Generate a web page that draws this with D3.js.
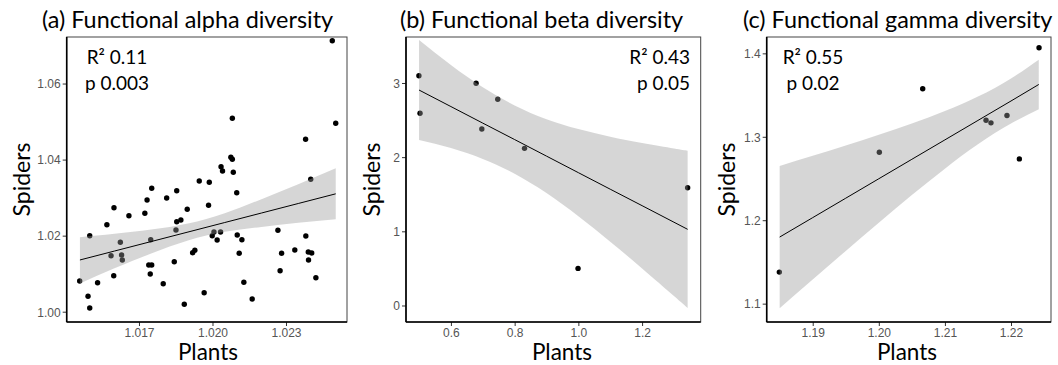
<!DOCTYPE html>
<html>
<head>
<meta charset="utf-8">
<script src="https://cdn.jsdelivr.net/npm/d3@7"></script>
<style>
    body { margin: 0; background: #fff; }
    svg { display: block; }
    .tick text { font-family: "Liberation Sans", Arial, sans-serif; font-size: 12px; fill: #555; }
    .tick line { stroke: #333; }
    .lbl { font-family: Lato, "Open Sans", sans-serif; fill: #000; }
</style>
</head>
<body>
<svg id="chart" width="1058" height="365"></svg>
<script>
// (a) functional alpha diversity
const alphaPlants = [1.02489, 1.02081, 1.02503, 1.02380, 1.02035, 1.02041, 1.02075, 1.02081, 1.02085, 1.01946,
    1.02401, 1.01752, 1.01854, 1.01987, 1.02099, 1.01733, 1.01813, 1.01598, 1.01984, 1.01724,
    1.01659, 1.01897, 1.01569, 1.01854, 1.01871, 1.01499, 1.01851, 1.01624, 1.01748, 1.01586,
    1.01629, 1.01632, 1.01740, 1.01752, 1.01844, 1.01919, 1.01928, 1.01999, 1.02006, 1.02033,
    1.02019, 1.02101, 1.02120, 1.02109, 1.02267, 1.02282, 1.02336, 1.02381, 1.02391, 1.02405,
    1.02392, 1.02276, 1.02422, 1.02128, 1.02162, 1.01966, 1.01885, 1.01799, 1.01597, 1.01531,
    1.01458, 1.01492, 1.01499, 1.01746];
const alphaSpiders = [1.07127, 1.05086, 1.04955, 1.04534, 1.03814, 1.03700, 1.04061, 1.04008, 1.03666, 1.03437,
    1.03482, 1.03245, 1.03182, 1.03403, 1.03130, 1.02938, 1.02990, 1.02735, 1.02798, 1.02588,
    1.02525, 1.02693, 1.02288, 1.02367, 1.02412, 1.01999, 1.02149, 1.01825, 1.01894, 1.01473,
    1.01491, 1.01360, 1.01228, 1.01228, 1.01315, 1.01552, 1.01615, 1.01999, 1.02096, 1.02096,
    1.01886, 1.02017, 1.01894, 1.01536, 1.02141, 1.01536, 1.01623, 1.01991, 1.01570, 1.01544,
    1.01360, 1.01078, 1.00894, 1.00773, 1.00334, 1.00500, 1.00195, 1.00736, 1.00947, 1.00763,
    1.00807, 1.00405, 1.00097, 1.00992];
const alphaBandX    = [1.01459, 1.0160, 1.0175, 1.0190, 1.0205, 1.0220, 1.0235, 1.02503];
const alphaFit      = [1.0136, 1.01595, 1.01845, 1.02095, 1.02345, 1.02595, 1.02845, 1.0310];
const alphaBandLow  = [1.0074, 1.0114, 1.0153, 1.0187, 1.0210, 1.0223, 1.0234, 1.0243];
const alphaBandHigh = [1.0196, 1.0205, 1.0216, 1.0232, 1.0259, 1.0296, 1.0335, 1.0377];
const alphaTicksX = [1.017, 1.020, 1.023];
const alphaTicksY = [1.00, 1.02, 1.04, 1.06];

// (b) functional beta diversity
const betaPlants  = [0.4995, 0.503, 0.679, 0.747, 0.697, 0.831, 1.343, 0.999];
const betaSpiders = [3.098, 2.591, 2.996, 2.780, 2.380, 2.119, 1.588, 0.500];
const betaBandX    = [0.5, 0.6, 0.7, 0.8, 0.9, 1.0, 1.1, 1.2, 1.3, 1.343];
const betaFit      = [2.905, 2.682, 2.459, 2.237, 2.014, 1.791, 1.568, 1.346, 1.123, 1.027];
const betaBandLow  = [2.231, 2.122, 1.976, 1.777, 1.516, 1.204, 0.861, 0.500, 0.129, -0.033];
const betaBandHigh = [3.579, 3.242, 2.942, 2.697, 2.512, 2.378, 2.275, 2.191, 2.117, 2.087];
const betaTicksX = [0.6, 0.8, 1.0, 1.2];
const betaTicksY = [0, 1, 2, 3];

// (c) functional gamma diversity
const gammaPlants  = [1.22424, 1.20664, 1.21622, 1.21697, 1.21939, 1.20008, 1.22126, 1.18495];
const gammaSpiders = [1.4067, 1.3575, 1.3198, 1.3167, 1.3255, 1.2814, 1.2735, 1.1378];
const gammaBandX    = [1.185, 1.19, 1.195, 1.20, 1.205, 1.21, 1.215, 1.22, 1.2242];
const gammaFit      = [1.1798, 1.2031, 1.2264, 1.2497, 1.2730, 1.2963, 1.3196, 1.3429, 1.3627];
const gammaBandLow  = [1.0945, 1.1290, 1.1632, 1.1970, 1.2301, 1.2618, 1.2910, 1.3158, 1.3330];
const gammaBandHigh = [1.2651, 1.2772, 1.2896, 1.3024, 1.3159, 1.3308, 1.3482, 1.3700, 1.3924];
const gammaTicksX = [1.19, 1.20, 1.21, 1.22];
const gammaTicksY = [1.1, 1.2, 1.3, 1.4];

class ScatterPanel {
    top = 37;
    bottom = 322;

    constructor(svg, opts) {
        this.svg = svg;
        this.opts = opts;
    }

    draw() {
        const o = this.opts;
        const g = this.svg.append("g");
        const x = d3.scaleLinear().domain(o.xDomain).range([o.left, o.right]);
        const y = d3.scaleLinear().domain(o.yDomain).range([this.bottom, this.top]);

        // panel frame
        g.append("rect")
            .attr("x", o.left).attr("y", this.top)
            .attr("width", o.right - o.left).attr("height", this.bottom - this.top)
            .attr("fill", "#fff").attr("stroke", "#444").attr("stroke-width", 1);

        const pts = o.px.map((v, i) => ({ x: v, y: o.py[i] }));
        g.selectAll("circle.pt")
            .data(pts)
            .enter()
            .append("circle")
            .attr("class", "pt")
            .attr("cx", d => x(d.x))
            .attr("cy", d => y(d.y))
            .attr("r", 2.7)
            .attr("fill", "#000");

        // confidence band drawn over the points, like ggplot's geom_smooth
        const band = o.bandX.map((v, i) => ({ x: v, lo: o.low[i], hi: o.high[i], fit: o.fit[i] }));
        g.append("path")
            .datum(band)
            .attr("d", d3.area().x(d => x(d.x)).y0(d => y(d.lo)).y1(d => y(d.hi)).curve(d3.curveNatural))
            .attr("fill", "#999")
            .attr("fill-opacity", 0.4);

        g.append("path")
            .datum(band)
            .attr("d", d3.line().x(d => x(d.x)).y(d => y(d.fit)))
            .attr("fill", "none")
            .attr("stroke", "#000")
            .attr("stroke-width", 1);

        const xAxis = g.append("g")
            .attr("transform", `translate(0,${this.bottom})`)
            .call(d3.axisBottom(x).tickValues(o.ticksX).tickFormat(d3.format(o.fmtX)).tickSize(4).tickPadding(2));
        const yAxis = g.append("g")
            .attr("transform", `translate(${o.left},0)`)
            .call(d3.axisLeft(y).tickValues(o.ticksY).tickFormat(d3.format(o.fmtY)).tickSize(4).tickPadding(2));
        xAxis.select(".domain").remove();
        yAxis.select(".domain").remove();
        yAxis.selectAll(".tick text").attr("dy", "0.36em");

        // axis lines
        g.append("line")
            .attr("x1", o.left).attr("x2", o.right)
            .attr("y1", this.bottom).attr("y2", this.bottom)
            .attr("stroke", "#000").attr("stroke-width", 1.6);
        g.append("line")
            .attr("x1", o.left).attr("x2", o.left)
            .attr("y1", this.top).attr("y2", this.bottom)
            .attr("stroke", "#000").attr("stroke-width", 1.6);

        g.append("text")
            .attr("class", "lbl")
            .attr("x", o.titleX).attr("y", 28)
            .attr("font-size", 23.4)
            .text(o.title);

        o.notes.forEach((t, i) => {
            g.append("text")
                .attr("class", "lbl")
                .attr("x", o.noteX).attr("y", 64 + i * 26)
                .attr("font-size", 19)
                .attr("text-anchor", o.noteAnchor)
                .text(t);
        });

        g.append("text")
            .attr("class", "lbl")
            .attr("x", o.xLabelX).attr("y", 360)
            .attr("font-size", 22.5)
            .attr("text-anchor", "middle")
            .text("Plants");

        g.append("text")
            .attr("class", "lbl")
            .attr("transform", `translate(${o.yLabelX},${(this.top + this.bottom) / 2}) rotate(-90)`)
            .attr("font-size", 23)
            .attr("text-anchor", "middle")
            .text("Spiders");
    }
}

const svg = d3.select("#chart");

new ScatterPanel(svg, {
    left: 66.7, right: 347,
    xDomain: [1.01405, 1.02549], yDomain: [0.99729, 1.07224],
    px: alphaPlants, py: alphaSpiders,
    bandX: alphaBandX, fit: alphaFit, low: alphaBandLow, high: alphaBandHigh,
    ticksX: alphaTicksX, ticksY: alphaTicksY, fmtX: ".3f", fmtY: ".2f",
    title: "(a) Functional alpha diversity", titleX: 42,
    notes: ["R² 0.11", "p 0.003"], noteX: 117, noteAnchor: "middle",
    xLabelX: 208, yLabelX: 30
}).draw();

new ScatterPanel(svg, {
    left: 406, right: 700.7,
    xDomain: [0.459, 1.384], yDomain: [-0.2225, 3.62],
    px: betaPlants, py: betaSpiders,
    bandX: betaBandX, fit: betaFit, low: betaBandLow, high: betaBandHigh,
    ticksX: betaTicksX, ticksY: betaTicksY, fmtX: ".1f", fmtY: "d",
    title: "(b) Functional beta diversity", titleX: 400,
    notes: ["R² 0.43", "p 0.05"], noteX: 690, noteAnchor: "end",
    xLabelX: 562, yLabelX: 380
}).draw();

new ScatterPanel(svg, {
    left: 766.7, right: 1051,
    xDomain: [1.18304, 1.22605], yDomain: [1.078, 1.4196],
    px: gammaPlants, py: gammaSpiders,
    bandX: gammaBandX, fit: gammaFit, low: gammaBandLow, high: gammaBandHigh,
    ticksX: gammaTicksX, ticksY: gammaTicksY, fmtX: ".2f", fmtY: ".1f",
    title: "(c) Functional gamma diversity", titleX: 743,
    notes: ["R² 0.55", "p 0.02"], noteX: 813, noteAnchor: "middle",
    xLabelX: 907, yLabelX: 735
}).draw();
</script>
</body>
</html>
